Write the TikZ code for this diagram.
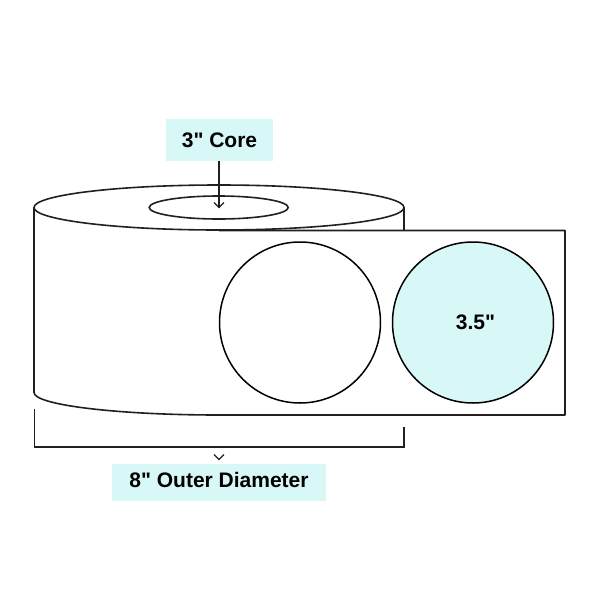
\documentclass[tikz,border=0pt]{standalone}
\usepackage{fontspec}
\newfontfamily\labfont{Liberation Sans}
\definecolor{tint}{HTML}{D8F7F7}
\definecolor{ink}{HTML}{231F20}
\tikzset{
  outl/.style={draw=ink,line width=1.6pt},
  thinl/.style={draw=ink,line width=1.15pt},
  lab/.style={fill=tint,inner sep=0pt,font=\labfont\bfseries\fontsize{21pt}{24pt}\selectfont,text=black},
  discshape/.style={circle,draw=black,line width=1.5pt,inner sep=0pt,minimum size=161pt}
}
\begin{document}
\begin{tikzpicture}[x=1pt,y=-1pt]
\useasboundingbox (0,0) rectangle (600,600);
\fill[white] (0,0) rectangle (600,600);
% roll body
\draw[outl,line join=round] (34,207.5) -- (34,392.5) arc [start angle=180,end angle=90,x radius=185,y radius=22.5] -- (565,415) -- (565,230.5) -- (219,230.5);
\draw[outl] (404,207.5) -- (404,230.5);
% top face
\draw[outl] (219,207.5) ellipse [x radius=185,y radius=22.5];
\draw[outl] (218.7,207.5) ellipse [x radius=69.5,y radius=11.5];
% label discs
\node[discshape,fill=white] (d1) at (300,322.5) {};
\node[discshape,fill=tint,font=\labfont\bfseries\fontsize{21pt}{24pt}\selectfont,text=black] (d2) at (473,322.5) {\hspace*{5pt}3.5"};
% core label
\node[lab,minimum width=107pt,minimum height=42pt] (core) at (219.5,140) {3" Core};
\coordinate (coreend) at (219,207.5);
\draw[thinl] (core.south -| coreend) -- (coreend);
\draw[thinl] (214,202.5) -- (219,207.5) -- (224,202.5);
% outer diameter
\node[lab,minimum width=214pt,minimum height=37pt,text height=15pt,text depth=5pt] (outer) at (219,482.5) {8" Outer Diameter};
\coordinate (bl) at (34.5,409);
\coordinate (bc) at (34.5,447);
\coordinate (bd) at (404,447);
\coordinate (br) at (404,427);
\draw[thinl] (bl) -- (bc) -- (bd) -- (br);
\draw[thinl] (214,454.5) -- (219,459.5) -- (224,454.5);
\end{tikzpicture}
\end{document}
